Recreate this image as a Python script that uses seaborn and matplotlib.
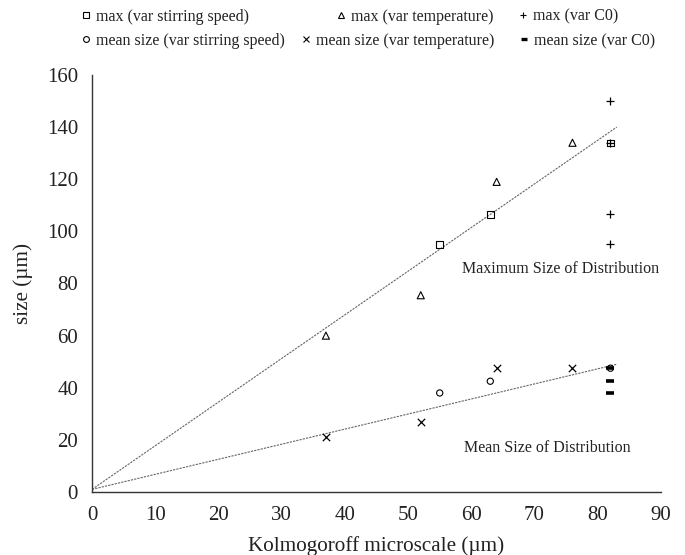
import matplotlib
matplotlib.use("Agg")
import matplotlib.pyplot as plt
from matplotlib.lines import Line2D
import seaborn as sns
import pandas as pd

# Kolmogoroff microscale (um) and particle sizes (um) for each experiment series
ks_stir = [55, 63, 82]
max_stir = [95, 106.5, 134]
mean_stir = [38, 42.5, 47.5]

ks_temp = [37, 52, 64, 76]
max_temp = [60, 75.5, 119, 134]
mean_temp = [21, 27, 47.5, 47.5]

ks_c0_max = [82, 82, 82, 82]
max_c0 = [150, 134, 106.5, 95]
ks_c0_mean = [82, 82, 82]
mean_c0 = [47.5, 42.5, 38]

# Linear trend lines (start / end points)
trend_x = [0, 83]
trend_max = [1, 140]
trend_mean = [1, 49]

x_ticks = [0, 10, 20, 30, 40, 50, 60, 70, 80, 90]
y_ticks = [0, 20, 40, 60, 80, 100, 120, 140, 160]

sns.set_theme(style="white")
plt.rcParams["font.family"] = ["Liberation Serif", "DejaVu Serif"]

fig = plt.figure(figsize=(6.85, 5.55), dpi=100)
ax = fig.add_axes([92 / 685, 1 - 492 / 555, (661 - 92) / 685, (492 - 75) / 555])

# trend lines
trend = pd.DataFrame({"x": trend_x, "max": trend_max, "mean": trend_mean})
line_kw = dict(color="#666666", linewidth=0.8, linestyle=(0, (2, 1)))
sns.lineplot(data=trend, x="x", y="max", ax=ax, **line_kw)
sns.lineplot(data=trend, x="x", y="mean", ax=ax, **line_kw)

series = [
    ("max (var stirring speed)", ks_stir, max_stir, dict(marker="s", s=22, facecolor="none", edgecolor="black", linewidth=0.8)),
    ("max (var temperature)", ks_temp, max_temp, dict(marker="^", s=26, facecolor="none", edgecolor="black", linewidth=0.8)),
    ("max (var C0)", ks_c0_max, max_c0, dict(marker="+", s=40, color="black", linewidth=0.9)),
    ("mean size (var stirring speed)", ks_stir, mean_stir, dict(marker="o", s=20, facecolor="none", edgecolor="black", linewidth=0.8)),
    ("mean size (var temperature)", ks_temp, mean_temp, dict(marker="x", s=28, color="black", linewidth=0.9)),
    ("mean size (var C0)", ks_c0_mean, mean_c0, dict(marker="_", s=36, color="black", linewidth=2.6)),
]
for name, xs, ys, kw in series:
    df = pd.DataFrame({"ks": xs, "size": ys})
    sns.scatterplot(data=df, x="ks", y="size", ax=ax, legend=False, zorder=3, **kw)

ax.set_xlim(0, 90)
ax.set_ylim(0, 160)
ax.set_xticks(x_ticks)
ax.set_yticks(y_ticks)
ax.tick_params(axis="x", direction="in", length=4, width=1, pad=10, labelsize=15, colors="#222222")
ax.tick_params(axis="y", direction="out", length=4, width=1, pad=6, labelsize=15, colors="#222222")
for side in ("top", "right"):
    ax.spines[side].set_visible(False)
for side in ("left", "bottom"):
    ax.spines[side].set_color("#333333")
    ax.spines[side].set_linewidth(1.0)

ax.set_xlabel("Kolmogoroff microscale (\u00b5m)", fontsize=15.2, color="#222222", labelpad=8)
ax.set_ylabel("size (\u00b5m)", fontsize=15.2, color="#222222", labelpad=10)

ax.text(58.6, 85.7, "Maximum Size of Distribution", fontsize=11.5, va="center", ha="left", color="#222222")
ax.text(58.9, 16.7, "Mean Size of Distribution", fontsize=11.5, va="center", ha="left", color="#222222")

# legend entries laid out in two rows across the top
legend_pos = [
    (86, 16.7), (341, 16.7), (523, 16.7),
    (86, 41.0), (306, 41.0), (524, 41.0),
]
for (name, xs, ys, kw), (px, py) in zip(series, legend_pos):
    mk = kw["marker"]
    filled = mk in ("s", "^", "o")
    handle = Line2D([], [], linestyle="none", marker=mk,
                    markersize=4.2 if filled else 5,
                    markerfacecolor="none" if filled else "black",
                    markeredgecolor="black",
                    markeredgewidth=2.4 if mk == "_" else 0.8)
    leg = fig.legend(handles=[handle], labels=[name], loc="center left",
                     bbox_to_anchor=((px - 6) / 685, 1 - py / 555),
                     frameon=False, fontsize=11.5, handlelength=0.8,
                     handletextpad=0.2, borderpad=0, borderaxespad=0)
    for t in leg.get_texts():
        t.set_color("#222222")

fig.savefig("out.png", dpi=100)
